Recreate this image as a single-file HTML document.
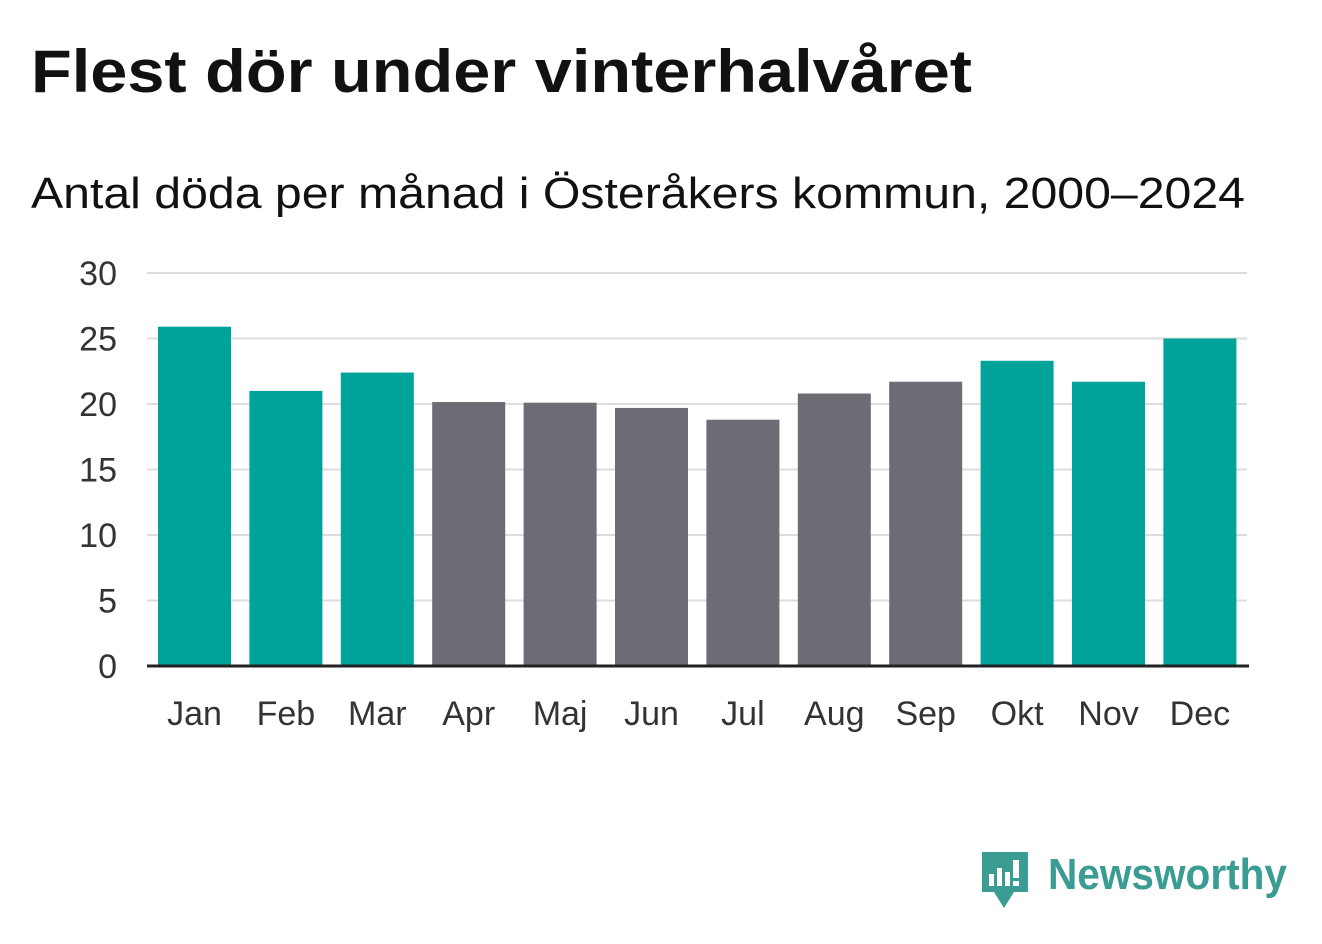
<!DOCTYPE html>
<html><head><meta charset="utf-8"><style>
body{margin:0;background:#fff;width:1322px;height:939px;overflow:hidden;font-family:"Liberation Sans","DejaVu Sans",sans-serif;}
svg text{font-family:"Liberation Sans","DejaVu Sans",sans-serif;}
</style></head><body>
<svg id="chart" width="1322" height="939">
<text x="31" y="92" font-size="60" font-weight="bold" fill="#111" textLength="941" lengthAdjust="spacingAndGlyphs">Flest dör under vinterhalvåret</text>
<text x="31" y="208" font-size="44" fill="#111" textLength="1214" lengthAdjust="spacingAndGlyphs">Antal döda per månad i Österåkers kommun, 2000–2024</text>
<g id="grid"></g><g id="bars"></g><g id="xlabels"></g>
<g>
<path d="M982 852 h46 v40 h-14 l-10 16 l-10 -16 h-12 z" fill="#3a9c92"/>
<rect x="989" y="874" width="5" height="12" fill="#fff"/><rect x="997" y="868" width="5" height="18" fill="#fff"/><rect x="1005" y="872" width="5" height="14" fill="#fff"/><rect x="1013" y="860" width="6" height="18" fill="#fff"/><rect x="1013" y="881" width="6" height="5" fill="#fff"/>
<text x="1048" y="889" font-size="44" font-weight="bold" fill="#3a9c92" textLength="239" lengthAdjust="spacingAndGlyphs">Newsworthy</text>
</g>
</svg>
<script>
const months=["Jan","Feb","Mar","Apr","Maj","Jun","Jul","Aug","Sep","Okt","Nov","Dec"];
const deaths=[25.9,21.0,22.4,20.15,20.1,19.7,18.8,20.8,21.7,23.3,21.7,25.0];
const winter=[true,true,true,false,false,false,false,false,false,true,true,true];
const yTicks=[0,5,10,15,20,25,30];
const NS="http://www.w3.org/2000/svg";
const x0=147,x1=1247,y0=666,yTop=273,yMax=30;
const y=v=>y0-(v/yMax)*(y0-yTop);
const band=91.4;
function mk(t,a,p){const e=document.createElementNS(NS,t);for(const k in a)e.setAttribute(k,a[k]);p.appendChild(e);return e;}
const grid=document.getElementById('grid');
yTicks.forEach(t=>{
 if(t>0){const l=mk('line',{x1:x0,x2:x1,y1:y(t),y2:y(t),stroke:'#ddd','stroke-width':2},grid);
 
 }
 const tx=mk('text',{x:117,y:y(t)+12,'font-size':34,fill:'#333','text-anchor':'end'},grid);tx.textContent=t;
 
 
});
const bars=document.getElementById('bars'),xl=document.getElementById('xlabels');
months.forEach((m,i)=>{
 const bx=158+i*band;
 const r=mk('rect',{x:bx,y:y(deaths[i]),width:73,height:y0-y(deaths[i]),fill:winter[i]?'#00a39a':'#6d6c74'},bars);
 
 
 const t=mk('text',{x:bx+36.5,y:725,'font-size':34,fill:'#333','text-anchor':'middle'},xl);t.textContent=m;
 
 
});
const ax=mk('line',{x1:x0,x2:1249,y1:y0,y2:y0,stroke:'#222','stroke-width':3},document.getElementById('chart'));


</script>
</body></html>
